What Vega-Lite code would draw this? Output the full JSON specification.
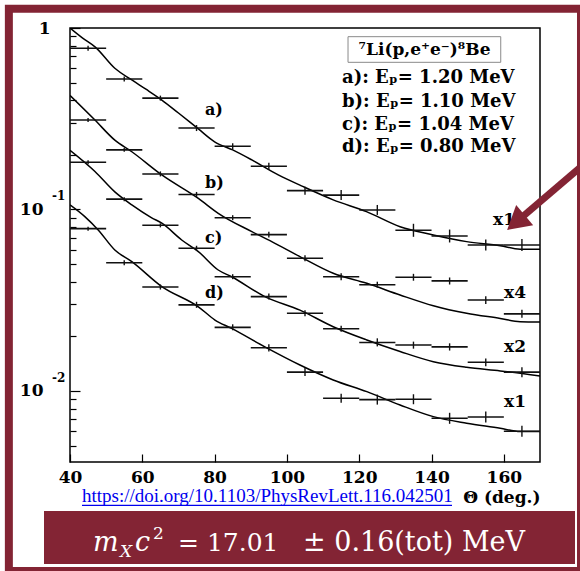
{
  "$schema": "https://vega.github.io/schema/vega-lite/v6.json",
  "width": 470,
  "height": 434,
  "autosize": {"type": "none"},
  "padding": {"left": 70, "top": 28, "right": 40, "bottom": 109},
  "background": "white",
  "config": {"view": {"stroke": "black", "strokeWidth": 1.5}, "font": "DejaVu Serif"},
  "datasets": {
    "points": [
      {"s": "a", "t": 45, "t0": 40, "t1": 50, "v": 0.773, "lo": 0.749, "hi": 0.798},
      {"s": "a", "t": 55, "t0": 50, "t1": 60, "v": 0.524, "lo": 0.508, "hi": 0.541},
      {"s": "a", "t": 65, "t0": 60, "t1": 70, "v": 0.411, "lo": 0.398, "hi": 0.424},
      {"s": "a", "t": 75, "t0": 70, "t1": 80, "v": 0.281, "lo": 0.2705, "hi": 0.2919},
      {"s": "a", "t": 85, "t0": 80, "t1": 90, "v": 0.223, "lo": 0.2147, "hi": 0.2317},
      {"s": "a", "t": 95, "t0": 90, "t1": 100, "v": 0.173, "lo": 0.1655, "hi": 0.1809},
      {"s": "a", "t": 105, "t0": 100, "t1": 110, "v": 0.127, "lo": 0.1207, "hi": 0.1336},
      {"s": "a", "t": 115, "t0": 110, "t1": 120, "v": 0.12, "lo": 0.1126, "hi": 0.1279},
      {"s": "a", "t": 125, "t0": 120, "t1": 130, "v": 0.0994, "lo": 0.0933, "hi": 0.1059},
      {"s": "a", "t": 135, "t0": 130, "t1": 140, "v": 0.0768, "lo": 0.0707, "hi": 0.0834},
      {"s": "a", "t": 145, "t0": 140, "t1": 150, "v": 0.0714, "lo": 0.0658, "hi": 0.0775},
      {"s": "a", "t": 155, "t0": 150, "t1": 160, "v": 0.0637, "lo": 0.0594, "hi": 0.0683},
      {"s": "a", "t": 165, "t0": 160, "t1": 170, "v": 0.0637, "lo": 0.059, "hi": 0.0687},
      {"s": "b", "t": 45, "t0": 40, "t1": 50, "v": 0.311, "lo": 0.3032, "hi": 0.319},
      {"s": "b", "t": 55, "t0": 50, "t1": 60, "v": 0.213, "lo": 0.2077, "hi": 0.2185},
      {"s": "b", "t": 65, "t0": 60, "t1": 70, "v": 0.157, "lo": 0.1521, "hi": 0.1621},
      {"s": "b", "t": 75, "t0": 70, "t1": 80, "v": 0.121, "lo": 0.1172, "hi": 0.1249},
      {"s": "b", "t": 85, "t0": 80, "t1": 90, "v": 0.0901, "lo": 0.0873, "hi": 0.093},
      {"s": "b", "t": 95, "t0": 90, "t1": 100, "v": 0.0727, "lo": 0.07, "hi": 0.0755},
      {"s": "b", "t": 105, "t0": 100, "t1": 110, "v": 0.0539, "lo": 0.0519, "hi": 0.056},
      {"s": "b", "t": 115, "t0": 110, "t1": 120, "v": 0.0426, "lo": 0.0407, "hi": 0.0445},
      {"s": "b", "t": 125, "t0": 120, "t1": 130, "v": 0.0385, "lo": 0.0371, "hi": 0.04},
      {"s": "b", "t": 135, "t0": 130, "t1": 140, "v": 0.0423, "lo": 0.0405, "hi": 0.0442},
      {"s": "b", "t": 145, "t0": 140, "t1": 150, "v": 0.0404, "lo": 0.0386, "hi": 0.0422},
      {"s": "b", "t": 155, "t0": 150, "t1": 160, "v": 0.0317, "lo": 0.0301, "hi": 0.0333},
      {"s": "b", "t": 165, "t0": 160, "t1": 170, "v": 0.0266, "lo": 0.0253, "hi": 0.028},
      {"s": "c", "t": 45, "t0": 40, "t1": 50, "v": 0.182, "lo": 0.1774, "hi": 0.1867},
      {"s": "c", "t": 55, "t0": 50, "t1": 60, "v": 0.114, "lo": 0.1111, "hi": 0.1169},
      {"s": "c", "t": 65, "t0": 60, "t1": 70, "v": 0.0818, "lo": 0.0797, "hi": 0.0839},
      {"s": "c", "t": 75, "t0": 70, "t1": 80, "v": 0.0611, "lo": 0.0592, "hi": 0.0631},
      {"s": "c", "t": 85, "t0": 80, "t1": 90, "v": 0.0426, "lo": 0.0413, "hi": 0.044},
      {"s": "c", "t": 95, "t0": 90, "t1": 100, "v": 0.0331, "lo": 0.0319, "hi": 0.0344},
      {"s": "c", "t": 105, "t0": 100, "t1": 110, "v": 0.0268, "lo": 0.0258, "hi": 0.0278},
      {"s": "c", "t": 115, "t0": 110, "t1": 120, "v": 0.022, "lo": 0.0212, "hi": 0.0229},
      {"s": "c", "t": 125, "t0": 120, "t1": 130, "v": 0.0185, "lo": 0.0176, "hi": 0.0195},
      {"s": "c", "t": 135, "t0": 130, "t1": 140, "v": 0.0179, "lo": 0.0171, "hi": 0.0187},
      {"s": "c", "t": 145, "t0": 140, "t1": 150, "v": 0.0175, "lo": 0.0167, "hi": 0.0183},
      {"s": "c", "t": 155, "t0": 150, "t1": 160, "v": 0.0144, "lo": 0.0137, "hi": 0.0151},
      {"s": "c", "t": 165, "t0": 160, "t1": 170, "v": 0.0127, "lo": 0.0119, "hi": 0.0135},
      {"s": "d", "t": 45, "t0": 40, "t1": 50, "v": 0.0784, "lo": 0.0764, "hi": 0.0804},
      {"s": "d", "t": 55, "t0": 50, "t1": 60, "v": 0.0509, "lo": 0.0493, "hi": 0.0525},
      {"s": "d", "t": 65, "t0": 60, "t1": 70, "v": 0.0374, "lo": 0.0362, "hi": 0.0386},
      {"s": "d", "t": 75, "t0": 70, "t1": 80, "v": 0.0298, "lo": 0.0287, "hi": 0.031},
      {"s": "d", "t": 85, "t0": 80, "t1": 90, "v": 0.0224, "lo": 0.0216, "hi": 0.0233},
      {"s": "d", "t": 95, "t0": 90, "t1": 100, "v": 0.0173, "lo": 0.0165, "hi": 0.0181},
      {"s": "d", "t": 105, "t0": 100, "t1": 110, "v": 0.0127, "lo": 0.0121, "hi": 0.0134},
      {"s": "d", "t": 115, "t0": 110, "t1": 120, "v": 0.00912, "lo": 0.00861, "hi": 0.00966},
      {"s": "d", "t": 125, "t0": 120, "t1": 130, "v": 0.00896, "lo": 0.00841, "hi": 0.00955},
      {"s": "d", "t": 135, "t0": 130, "t1": 140, "v": 0.009, "lo": 0.00845, "hi": 0.00959},
      {"s": "d", "t": 145, "t0": 140, "t1": 150, "v": 0.00707, "lo": 0.00659, "hi": 0.00758},
      {"s": "d", "t": 155, "t0": 150, "t1": 160, "v": 0.00719, "lo": 0.00671, "hi": 0.00771},
      {"s": "d", "t": 165, "t0": 160, "t1": 170, "v": 0.006, "lo": 0.0056, "hi": 0.00643}
    ],
    "curves": [
      {"s": "a", "t": 40, "v": 1.0}, {"s": "a", "t": 43.5, "v": 0.88}, {"s": "a", "t": 47, "v": 0.785},
      {"s": "a", "t": 52.4, "v": 0.6}, {"s": "a", "t": 57.1, "v": 0.517}, {"s": "a", "t": 61, "v": 0.46},
      {"s": "a", "t": 65.4, "v": 0.401}, {"s": "a", "t": 70, "v": 0.34}, {"s": "a", "t": 75.5, "v": 0.278},
      {"s": "a", "t": 80, "v": 0.236}, {"s": "a", "t": 85, "v": 0.213}, {"s": "a", "t": 90.3, "v": 0.1875},
      {"s": "a", "t": 97.6, "v": 0.155}, {"s": "a", "t": 104, "v": 0.135}, {"s": "a", "t": 112.8, "v": 0.113},
      {"s": "a", "t": 122, "v": 0.0973}, {"s": "a", "t": 131.3, "v": 0.0804}, {"s": "a", "t": 140.5, "v": 0.0724},
      {"s": "a", "t": 149.7, "v": 0.0665}, {"s": "a", "t": 159, "v": 0.0632}, {"s": "a", "t": 164.5, "v": 0.0604},
      {"s": "a", "t": 170, "v": 0.0604},
      {"s": "b", "t": 40, "v": 0.425}, {"s": "b", "t": 46.9, "v": 0.311}, {"s": "b", "t": 52.4, "v": 0.241},
      {"s": "b", "t": 57.1, "v": 0.208}, {"s": "b", "t": 65.4, "v": 0.155}, {"s": "b", "t": 75.5, "v": 0.115},
      {"s": "b", "t": 81, "v": 0.0953}, {"s": "b", "t": 90.3, "v": 0.0755}, {"s": "b", "t": 95.8, "v": 0.0665},
      {"s": "b", "t": 103.6, "v": 0.055}, {"s": "b", "t": 112.8, "v": 0.0445}, {"s": "b", "t": 122.1, "v": 0.0392},
      {"s": "b", "t": 131.3, "v": 0.0338}, {"s": "b", "t": 140.5, "v": 0.0295}, {"s": "b", "t": 149.7, "v": 0.0268},
      {"s": "b", "t": 159, "v": 0.0251}, {"s": "b", "t": 164.5, "v": 0.0241}, {"s": "b", "t": 170, "v": 0.024},
      {"s": "c", "t": 40, "v": 0.212}, {"s": "c", "t": 46.9, "v": 0.162}, {"s": "c", "t": 52.4, "v": 0.125},
      {"s": "c", "t": 57.1, "v": 0.106}, {"s": "c", "t": 62.6, "v": 0.09}, {"s": "c", "t": 65.4, "v": 0.084},
      {"s": "c", "t": 70.9, "v": 0.0679}, {"s": "c", "t": 75.5, "v": 0.0586}, {"s": "c", "t": 81, "v": 0.0464},
      {"s": "c", "t": 84.7, "v": 0.0426}, {"s": "c", "t": 93.9, "v": 0.0331}, {"s": "c", "t": 103.6, "v": 0.0279},
      {"s": "c", "t": 112.8, "v": 0.0226}, {"s": "c", "t": 122.1, "v": 0.0191}, {"s": "c", "t": 131.3, "v": 0.0165},
      {"s": "c", "t": 140.5, "v": 0.0145}, {"s": "c", "t": 149.7, "v": 0.0135}, {"s": "c", "t": 159, "v": 0.0129},
      {"s": "c", "t": 170, "v": 0.0121},
      {"s": "d", "t": 40, "v": 0.106}, {"s": "d", "t": 44.1, "v": 0.0913}, {"s": "d", "t": 47.8, "v": 0.0771},
      {"s": "d", "t": 52.4, "v": 0.0598}, {"s": "d", "t": 57.1, "v": 0.0516}, {"s": "d", "t": 65.4, "v": 0.0376},
      {"s": "d", "t": 75.5, "v": 0.0291}, {"s": "d", "t": 80.1, "v": 0.0246}, {"s": "d", "t": 84.7, "v": 0.0221},
      {"s": "d", "t": 93.9, "v": 0.0175}, {"s": "d", "t": 103.6, "v": 0.0139}, {"s": "d", "t": 112.8, "v": 0.0115},
      {"s": "d", "t": 122.1, "v": 0.00991}, {"s": "d", "t": 131.3, "v": 0.00837}, {"s": "d", "t": 140.5, "v": 0.00722},
      {"s": "d", "t": 149.7, "v": 0.00664}, {"s": "d", "t": 159, "v": 0.00623}, {"s": "d", "t": 164.5, "v": 0.00597},
      {"s": "d", "t": 170, "v": 0.00597}
    ],
    "frame": [{"x": 23.09, "x2": 181.34, "y": 1.2751, "y2": 0.0010193}],
    "banner": [{"x": 32.81, "x2": 179.68, "y": 0.002182, "y2": 0.001113}],
    "bannerText": [{"x": 46.36, "y": 0.001305}],
    "link": [{"text": "https://doi.org/10.1103/PhysRevLett.116.042501", "x": 43.32, "y": 0.002446}],
    "underline": [{"x": 43.32, "x2": 145.66, "y": 0.002339}],
    "serieslab": [
      {"text": "a)", "x": 77.34, "y": 0.3535},
      {"text": "b)", "x": 77.34, "y": 0.1405},
      {"text": "c)", "x": 77.34, "y": 0.0697},
      {"text": "d)", "x": 77.34, "y": 0.03453}
    ],
    "scalelab": [
      {"text": "x1", "x": 157.0, "y": 0.0875},
      {"text": "x4", "x": 160.05, "y": 0.03453},
      {"text": "x2", "x": 160.05, "y": 0.01741},
      {"text": "x1", "x": 160.05, "y": 0.00873}
    ],
    "legendbox": [{"x": 116.9, "x2": 159.14, "y": 0.8957, "y2": 0.647}],
    "legendtitle": [{"text": "⁷Li(p,e⁺e⁻)⁸Be", "x": 138.06, "y": 0.7564}],
    "legendlines": [
      {"text": "a): Eₚ= 1.20 MeV", "x": 115.23, "y": 0.532},
      {"text": "b): Eₚ= 1.10 MeV", "x": 115.23, "y": 0.3926},
      {"text": "c): Eₚ= 1.04 MeV", "x": 115.23, "y": 0.2921},
      {"text": "d): Eₚ= 0.80 MeV", "x": 115.23, "y": 0.2218}
    ],
    "exps": [{"text": "-1", "x": 35.02, "y": 0.1}, {"text": "-2", "x": 35.02, "y": 0.01}],
    "arrow": [{"x": 181.62, "y": 0.1737, "x2": 164.47, "y2": 0.0887}],
    "arrowhead": [{"x": 163.33, "y": 0.08468}]
  },
  "layer": [
    {
      "data": {"name": "curves"},
      "mark": {"type": "line", "color": "black", "strokeWidth": 1.5, "interpolate": "monotone", "clip": true},
      "encoding": {
        "x": {
          "field": "t", "type": "quantitative",
          "scale": {"domain": [40, 170], "nice": false, "zero": false},
          "axis": {
            "values": [40, 45, 50, 55, 60, 65, 70, 75, 80, 85, 90, 95, 100, 105, 110, 115, 120, 125, 130, 135, 140, 145, 150, 155, 160, 165],
            "labelExpr": "datum.value % 20 === 0 ? datum.label : ''",
            "tickSize": {"condition": {"test": "datum.value % 20 === 0", "value": -8}, "value": -4},
            "tickColor": "black", "tickWidth": 1.2, "domain": false, "grid": false,
            "labelFont": "DejaVu Serif", "labelFontWeight": "bold", "labelFontSize": 17, "labelColor": "black",
            "labelPadding": 15, "labelFlush": false, "labelOverlap": false,
            "title": "Θ (deg.)", "titleAnchor": "end", "titleFont": "DejaVu Serif", "titleFontWeight": "bold", "titleFontSize": 17, "titleColor": "black", "titlePadding": 4
          }
        },
        "y": {
          "field": "v", "type": "quantitative",
          "scale": {"type": "log", "domain": [0.00406, 1], "nice": false},
          "axis": {
            "values": [0.005, 0.006, 0.007, 0.008, 0.009, 0.01, 0.02, 0.03, 0.04, 0.05, 0.06, 0.07, 0.08, 0.09, 0.1, 0.2, 0.3, 0.4, 0.5, 0.6, 0.7, 0.8, 0.9, 1],
            "labelExpr": "datum.value === 1 ? '1' : (datum.value === 0.1 || datum.value === 0.01) ? '10' : ''",
            "tickSize": {"condition": {"test": "datum.value === 1 || datum.value === 0.1 || datum.value === 0.01", "value": -10}, "value": -6},
            "labelPadding": {"condition": {"test": "datum.value === 1", "value": 30}, "value": 37},
            "tickColor": "black", "tickWidth": 1.2, "domain": false, "grid": false,
            "labelFont": "DejaVu Serif", "labelFontWeight": "bold", "labelFontSize": 17, "labelColor": "black",
            "labelOverlap": false, "labelFlush": false, "title": null
          }
        },
        "detail": {"field": "s"}
      }
    },
    {
      "data": {"name": "frame"},
      "mark": {"type": "rect", "filled": false, "stroke": "#832434", "strokeWidth": 8},
      "encoding": {
        "x": {"field": "x", "type": "quantitative"},
        "x2": {"field": "x2"},
        "y": {"field": "y", "type": "quantitative"},
        "y2": {"field": "y2"}
      }
    },
    {
      "data": {"name": "banner"},
      "mark": {"type": "rect", "fill": "#832434"},
      "encoding": {
        "x": {"field": "x", "type": "quantitative"},
        "x2": {"field": "x2"},
        "y": {"field": "y", "type": "quantitative"},
        "y2": {"field": "y2"}
      }
    },
    {
      "data": {"name": "bannerText"},
      "layer": [
        {"mark": {"type": "text", "text": "m", "font": "DejaVu Serif", "fontStyle": "italic", "fontSize": 27, "color": "white", "align": "left", "baseline": "alphabetic", "dx": 0}},
        {"mark": {"type": "text", "text": "X", "font": "DejaVu Serif", "fontStyle": "italic", "fontSize": 17, "color": "white", "align": "left", "baseline": "alphabetic", "dx": 27, "dy": 6}},
        {"mark": {"type": "text", "text": "c", "font": "DejaVu Serif", "fontStyle": "italic", "fontSize": 27, "color": "white", "align": "left", "baseline": "alphabetic", "dx": 42}},
        {"mark": {"type": "text", "text": "2", "font": "DejaVu Serif", "fontSize": 17, "color": "white", "align": "left", "baseline": "alphabetic", "dx": 60, "dy": -12}},
        {"mark": {"type": "text", "text": "= 17.01", "font": "DejaVu Serif", "fontSize": 25, "color": "white", "align": "left", "baseline": "alphabetic", "dx": 85}},
        {"mark": {"type": "text", "text": "± 0.16(tot) MeV", "font": "DejaVu Serif", "fontSize": 27, "color": "white", "align": "left", "baseline": "alphabetic", "dx": 210}}
      ],
      "encoding": {
        "x": {"field": "x", "type": "quantitative"},
        "y": {"field": "y", "type": "quantitative"}
      }
    },
    {
      "data": {"name": "link"},
      "mark": {"type": "text", "font": "Liberation Serif", "fontSize": 19, "color": "#0000ee", "align": "left", "baseline": "alphabetic"},
      "encoding": {
        "x": {"field": "x", "type": "quantitative"},
        "y": {"field": "y", "type": "quantitative"},
        "text": {"field": "text"}
      }
    },
    {
      "data": {"name": "underline"},
      "mark": {"type": "rule", "color": "#0000ee", "strokeWidth": 1.3},
      "encoding": {
        "x": {"field": "x", "type": "quantitative"},
        "x2": {"field": "x2"},
        "y": {"field": "y", "type": "quantitative"}
      }
    },
    {
      "data": {"name": "points"},
      "mark": {"type": "rule", "color": "#111", "strokeWidth": 1.6},
      "encoding": {
        "x": {"field": "t0", "type": "quantitative"},
        "x2": {"field": "t1"},
        "y": {"field": "v", "type": "quantitative"}
      }
    },
    {
      "data": {"name": "points"},
      "mark": {"type": "rule", "color": "#111", "strokeWidth": 1.4},
      "encoding": {
        "x": {"field": "t", "type": "quantitative"},
        "y": {"field": "lo", "type": "quantitative"},
        "y2": {"field": "hi"}
      }
    },
    {
      "data": {"name": "serieslab"},
      "mark": {"type": "text", "font": "DejaVu Serif", "fontWeight": "bold", "fontSize": 16, "color": "black", "align": "left", "baseline": "middle"},
      "encoding": {
        "x": {"field": "x", "type": "quantitative"},
        "y": {"field": "y", "type": "quantitative"},
        "text": {"field": "text"}
      }
    },
    {
      "data": {"name": "scalelab"},
      "mark": {"type": "text", "font": "DejaVu Serif", "fontWeight": "bold", "fontSize": 17, "color": "black", "align": "left", "baseline": "middle"},
      "encoding": {
        "x": {"field": "x", "type": "quantitative"},
        "y": {"field": "y", "type": "quantitative"},
        "text": {"field": "text"}
      }
    },
    {
      "data": {"name": "legendbox"},
      "mark": {"type": "rect", "filled": false, "stroke": "#8a8a8a", "strokeWidth": 1},
      "encoding": {
        "x": {"field": "x", "type": "quantitative"},
        "x2": {"field": "x2"},
        "y": {"field": "y", "type": "quantitative"},
        "y2": {"field": "y2"}
      }
    },
    {
      "data": {"name": "legendtitle"},
      "mark": {"type": "text", "font": "DejaVu Serif", "fontWeight": "bold", "fontSize": 17, "color": "black", "align": "center", "baseline": "middle"},
      "encoding": {
        "x": {"field": "x", "type": "quantitative"},
        "y": {"field": "y", "type": "quantitative"},
        "text": {"field": "text"}
      }
    },
    {
      "data": {"name": "legendlines"},
      "mark": {"type": "text", "font": "DejaVu Serif", "fontWeight": "bold", "fontSize": 18, "color": "black", "align": "left", "baseline": "middle"},
      "encoding": {
        "x": {"field": "x", "type": "quantitative"},
        "y": {"field": "y", "type": "quantitative"},
        "text": {"field": "text"}
      }
    },
    {
      "data": {"name": "exps"},
      "mark": {"type": "text", "font": "DejaVu Serif", "fontWeight": "bold", "fontSize": 12, "color": "black", "align": "left", "baseline": "middle", "dy": -13},
      "encoding": {
        "x": {"field": "x", "type": "quantitative"},
        "y": {"field": "y", "type": "quantitative"},
        "text": {"field": "text"}
      }
    },
    {
      "data": {"name": "arrow"},
      "mark": {"type": "rule", "color": "#832434", "strokeWidth": 7},
      "encoding": {
        "x": {"field": "x", "type": "quantitative"},
        "y": {"field": "y", "type": "quantitative"},
        "x2": {"field": "x2"},
        "y2": {"field": "y2"}
      }
    },
    {
      "data": {"name": "arrowhead"},
      "mark": {"type": "point", "shape": "triangle-up", "filled": true, "color": "#832434", "size": 700, "angle": 230, "opacity": 1},
      "encoding": {
        "x": {"field": "x", "type": "quantitative"},
        "y": {"field": "y", "type": "quantitative"}
      }
    }
  ]
}
